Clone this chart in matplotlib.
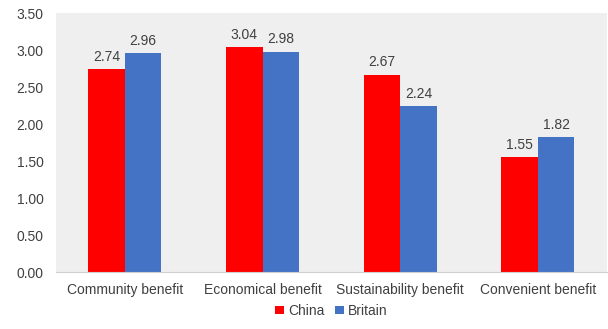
import numpy as np
import matplotlib.pyplot as plt

categories = ["Community benefit", "Economical benefit", "Sustainability benefit", "Convenient benefit"]
china = [2.74, 3.04, 2.67, 1.55]
britain = [2.96, 2.98, 2.24, 1.82]
yticks = [0.0, 0.5, 1.0, 1.5, 2.0, 2.5, 3.0, 3.5]

plt.rcParams['font.family'] = ['Liberation Sans', 'DejaVu Sans']
text_color = '#404040'
fs = 10

fig = plt.figure(figsize=(6.08, 3.29), dpi=100)
ax = fig.add_axes([0.092, 0.173, 0.906, 0.787])
ax.set_facecolor('#efefef')

x = np.arange(len(categories))
w = 0.265
b1 = ax.bar(x - w / 2, china, w, color='#ff0000', label='China')
b2 = ax.bar(x + w / 2, britain, w, color='#4472c4', label='Britain')

for bars in (b1, b2):
    ax.bar_label(bars, labels=[f"{v:.2f}" for v in bars.datavalues], padding=4,
                 fontsize=fs, color=text_color)

ax.set_xlim(-0.5, len(categories) - 0.5)
ax.set_ylim(0, 3.5)
ax.set_yticks(yticks)
ax.set_yticklabels([f"{t:.2f}" for t in yticks])
ax.set_xticks(x)
ax.set_xticklabels(categories)
ax.tick_params(axis='both', length=0, labelsize=fs, colors=text_color)
ax.tick_params(axis='y', pad=9)
ax.tick_params(axis='x', pad=8)

for s in ['top', 'right', 'left']:
    ax.spines[s].set_visible(False)
ax.spines['bottom'].set_color('#d0d0d0')

ax.legend(loc='lower center', bbox_to_anchor=(0.5, -0.225), ncol=2, frameon=False,
          handlelength=0.6, handleheight=0.6, handletextpad=0.3, columnspacing=0.8,
          fontsize=fs, labelcolor=text_color)

fig.savefig('out.png', dpi=100, facecolor='white')
